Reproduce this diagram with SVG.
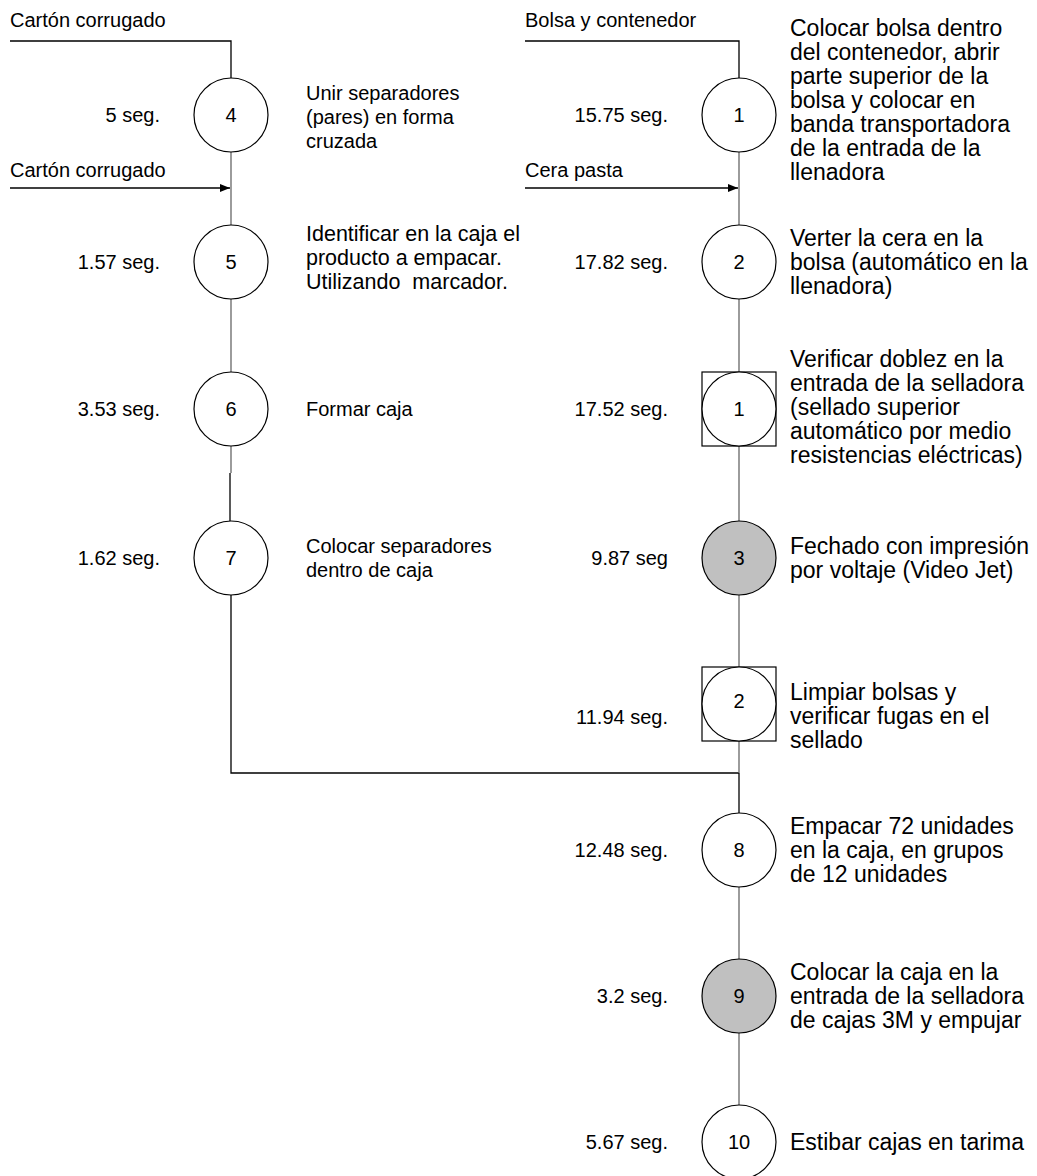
<svg xmlns="http://www.w3.org/2000/svg" width="1037" height="1176" viewBox="0 0 1037 1176">
  <style>
    text { font-family: "Liberation Sans", Arial, sans-serif; font-size: 20px; fill: #000; }
    .num { text-anchor: middle; }
    .time { text-anchor: end; }
    .desc { font-size: 23px; }
    .desc-m { font-size: 21.5px; }
    .op { fill: #fff; stroke: #000; stroke-width: 1.2; }
    .op.auto { fill: #c0c0c0; }
    .insp { fill: #fff; stroke: #000; stroke-width: 1.2; }
    .flow { fill: none; stroke: #000; stroke-width: 1.3; }
    .link { fill: none; stroke: #666; stroke-width: 1.3; }
  </style>
  <defs>
    <marker id="arrow" viewBox="0 0 10 8" refX="10" refY="4" markerWidth="10" markerHeight="8" markerUnits="userSpaceOnUse" orient="auto">
      <path d="M0,0 L10,4 L0,8 z" fill="#000"/>
    </marker>
  </defs>
  <rect width="1037" height="1176" fill="#fff"/>

  <!-- material inputs -->
  <g id="inputs">
    <text x="10" y="27">Cartón corrugado</text>
    <text x="10" y="177">Cartón corrugado</text>
    <text x="525" y="27">Bolsa y contenedor</text>
    <text x="525" y="177">Cera pasta</text>
  </g>

  <!-- connectors -->
  <g id="connectors">
    <path class="flow" d="M10,41 H231 V78"/>
    <path class="flow" d="M10,188 H230" marker-end="url(#arrow)"/>
    <path class="link" d="M231,152 V225"/>
    <path class="link" d="M231,299 V372"/>
    <path class="link" d="M231,446 V473"/>
    <path class="flow" d="M230,473 V521"/>
    <path class="flow" d="M231,595 V773 H739"/>

    <path class="flow" d="M525,41 H739 V78"/>
    <path class="flow" d="M525,188 H738" marker-end="url(#arrow)"/>
    <path class="link" d="M739,152 V225"/>
    <path class="link" d="M739,299 V372"/>
    <path class="link" d="M739,446 V521"/>
    <path class="link" d="M739,595 V667"/>
    <path class="link" d="M739,741 V773"/>
    <path class="flow" d="M739,773 V813"/>
    <path class="link" d="M739,887 V959"/>
    <path class="link" d="M739,1033 V1105"/>
  </g>

  <!-- left branch: box preparation -->
  <g id="op4">
    <circle class="op" cx="231" cy="115" r="37"/>
    <text class="num" x="231" y="122">4</text>
    <text class="time" x="160" y="122">5 seg.</text>
    <text x="306" y="100">Unir separadores</text>
    <text x="306" y="124">(pares) en forma</text>
    <text x="306" y="148">cruzada</text>
  </g>
  <g id="op5">
    <circle class="op" cx="231" cy="262" r="37"/>
    <text class="num" x="231" y="269">5</text>
    <text class="time" x="160" y="269">1.57 seg.</text>
    <text class="desc-m" x="306" y="241">Identificar en la caja el</text>
    <text class="desc-m" x="306" y="265">producto a empacar.</text>
    <text class="desc-m" x="306" y="289" xml:space="preserve">Utilizando  marcador.</text>
  </g>
  <g id="op6">
    <circle class="op" cx="231" cy="409" r="37"/>
    <text class="num" x="231" y="416">6</text>
    <text class="time" x="160" y="416">3.53 seg.</text>
    <text x="306" y="416">Formar caja</text>
  </g>
  <g id="op7">
    <circle class="op" cx="231" cy="558" r="37"/>
    <text class="num" x="231" y="565">7</text>
    <text class="time" x="160" y="565">1.62 seg.</text>
    <text x="306" y="553">Colocar separadores</text>
    <text x="306" y="577">dentro de caja</text>
  </g>

  <!-- right branch: bag filling and packing -->
  <g id="op1">
    <circle class="op" cx="739" cy="115" r="37"/>
    <text class="num" x="739" y="122">1</text>
    <text class="time" x="668" y="122">15.75 seg.</text>
    <text class="desc" x="790" y="36">Colocar bolsa dentro</text>
    <text class="desc" x="790" y="60">del contenedor, abrir</text>
    <text class="desc" x="790" y="84">parte superior de la</text>
    <text class="desc" x="790" y="108">bolsa y colocar en</text>
    <text class="desc" x="790" y="132">banda transportadora</text>
    <text class="desc" x="790" y="156">de la entrada de la</text>
    <text class="desc" x="790" y="180">llenadora</text>
  </g>
  <g id="op2">
    <circle class="op" cx="739" cy="262" r="37"/>
    <text class="num" x="739" y="269">2</text>
    <text class="time" x="668" y="269">17.82 seg.</text>
    <text class="desc" x="790" y="246">Verter la cera en la</text>
    <text class="desc" x="790" y="270">bolsa (automático en la</text>
    <text class="desc" x="790" y="294">llenadora)</text>
  </g>
  <g id="combined1">
    <rect class="insp" x="702" y="372" width="74" height="74"/>
    <circle class="op" cx="739" cy="409" r="37"/>
    <text class="num" x="739" y="416">1</text>
    <text class="time" x="668" y="416">17.52 seg.</text>
    <text class="desc" x="790" y="367">Verificar doblez en la</text>
    <text class="desc" x="790" y="391">entrada de la selladora</text>
    <text class="desc" x="790" y="415">(sellado superior</text>
    <text class="desc" x="790" y="439">automático por medio</text>
    <text class="desc" x="790" y="463">resistencias eléctricas)</text>
  </g>
  <g id="op3">
    <circle class="op auto" cx="739" cy="558" r="37"/>
    <text class="num" x="739" y="565">3</text>
    <text class="time" x="668" y="565">9.87 seg</text>
    <text class="desc" x="790" y="554">Fechado con impresión</text>
    <text class="desc" x="790" y="578">por voltaje (Video Jet)</text>
  </g>
  <g id="combined2">
    <rect class="insp" x="702" y="667" width="74" height="74"/>
    <circle class="op" cx="739" cy="704" r="37"/>
    <text class="num" x="739" y="708">2</text>
    <text class="time" x="668" y="724">11.94 seg.</text>
    <text class="desc" x="790" y="700">Limpiar bolsas y</text>
    <text class="desc" x="790" y="724">verificar fugas en el</text>
    <text class="desc" x="790" y="748">sellado</text>
  </g>
  <g id="op8">
    <circle class="op" cx="739" cy="850" r="37"/>
    <text class="num" x="739" y="857">8</text>
    <text class="time" x="668" y="857">12.48 seg.</text>
    <text class="desc" x="790" y="834">Empacar 72 unidades</text>
    <text class="desc" x="790" y="858">en la caja, en grupos</text>
    <text class="desc" x="790" y="882">de 12 unidades</text>
  </g>
  <g id="op9">
    <circle class="op auto" cx="739" cy="996" r="37"/>
    <text class="num" x="739" y="1003">9</text>
    <text class="time" x="668" y="1003">3.2 seg.</text>
    <text class="desc" x="790" y="980">Colocar la caja en la</text>
    <text class="desc" x="790" y="1004">entrada de la selladora</text>
    <text class="desc" x="790" y="1028">de cajas 3M y empujar</text>
  </g>
  <g id="op10">
    <circle class="op" cx="739" cy="1142" r="37"/>
    <text class="num" x="739" y="1149">10</text>
    <text class="time" x="668" y="1149">5.67 seg.</text>
    <text class="desc" x="790" y="1150">Estibar cajas en tarima</text>
  </g>
</svg>
